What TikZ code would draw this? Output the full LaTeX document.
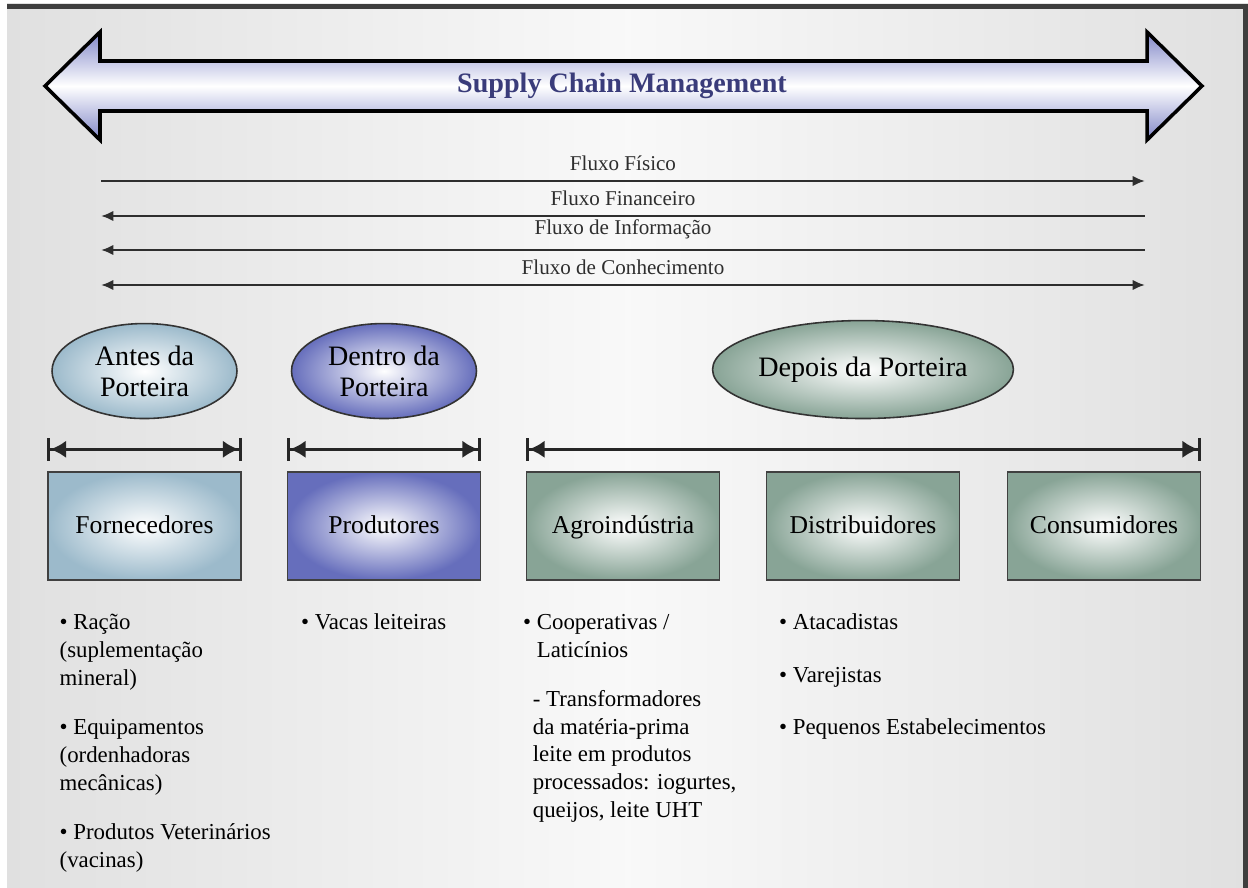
\documentclass[tikz,border=0pt]{standalone}
\usepackage{fontspec}
\setmainfont{Liberation Serif}
\usepackage{xcolor}
\usetikzlibrary{arrows.meta, positioning, shapes, calc}

\definecolor{antesblue}{RGB}{156,186,203}
\definecolor{dentroblue}{RGB}{102,110,188}
\definecolor{depoisgreen}{RGB}{136,164,150}
\definecolor{scmblue}{RGB}{128,134,200}
\definecolor{scmtext}{RGB}{58,60,122}
\definecolor{bggray}{RGB}{224,224,224}
\definecolor{framegray}{RGB}{62,62,62}

\begin{document}
\begin{tikzpicture}[
  x=0.02cm, y=-0.02cm,
  every node/.style={font=\fontsize{13}{15.9}\selectfont},
  box/.style={draw=black!75, line width=0.8pt, minimum width=3.86cm, minimum height=2.16cm, text height=0.8em, text depth=0pt, inner color=white, font=\fontsize{14.6}{17}\selectfont},
  zone/.style={ellipse, draw=black!80, line width=0.9pt, minimum width=3.7cm, minimum height=1.9cm, align=center, inner sep=1pt, inner color=white, font=\fontsize{16}{17.6}\selectfont},
  span/.style={{Bar[width=13pt]Latex[length=9pt, width=10pt]}-{Latex[length=9pt, width=10pt]Bar[width=13pt]}, line width=1.7pt, black!85},
  flow/.style={line width=1.6pt, black!82},
  flowtip/.tip={Latex[length=7pt, width=6pt]},
  flowlabel/.style={above=2pt, font=\fontsize{12}{14}\selectfont},
  items/.style={anchor=north west, align=left, inner sep=0pt}
]
% background and frame
\useasboundingbox (0,0) rectangle (1248,888);
\fill[white] (0,0) rectangle (1248,888);
\fill[left color=bggray, right color=bggray, middle color=gray!5] (7,4) rectangle (1248,888);
\fill[framegray] (7,4) rectangle (1248,9);
\fill[framegray] (1243,4) rectangle (1248,888);

% supply chain arrow
\draw[line width=2pt, top color=scmblue, bottom color=scmblue, middle color=white]
  (45,86) -- (100,32) -- (100,61) -- (1147,61) -- (1147,32) -- (1202,86)
  -- (1147,140) -- (1147,111) -- (100,111) -- (100,140) -- cycle;
\node[font=\fontsize{16}{18}\selectfont\bfseries, text=scmtext] (title) at (622,86) {Supply Chain Management};

% flows
\coordinate (fisL) at (101,181);  \coordinate (fisR) at (1145,181);
\coordinate (finL) at (101,216);  \coordinate (finR) at (1145,216);
\coordinate (infL) at (101,250);  \coordinate (infR) at (1145,250);
\coordinate (conL) at (101,285);  \coordinate (conR) at (1145,285);
\draw[flow, -flowtip] (fisL) -- node[flowlabel]{Fluxo Físico} (fisR);
\draw[flow, flowtip-] (finL) -- node[flowlabel]{Fluxo Financeiro} (finR);
\draw[flow, flowtip-] (infL) -- node[flowlabel]{Fluxo de Informação} (infR);
\draw[flow, flowtip-flowtip] (conL) -- node[flowlabel]{Fluxo de Conhecimento} (conR);

% agents
\node[box, outer color=antesblue] (forn) at (144.5,526) {Fornecedores};
\node[box, outer color=dentroblue] (prod) at (384,526) {Produtores};
\node[box, outer color=depoisgreen] (agro) at (623,526) {Agroindústria};
\node[box, outer color=depoisgreen] (dist) at (863,526) {Distribuidores};
\node[box, outer color=depoisgreen] (cons) at (1104,526) {Consumidores};

% stages
\node[zone, outer color=antesblue, above=1.04cm of forn] (antes) {Antes da\\Porteira};
\node[zone, outer color=dentroblue, above=1.04cm of prod] (dentro) {Dentro da\\Porteira};
\node[zone, outer color=depoisgreen, minimum width=5.8cm, minimum height=1.96cm, above=1.04cm of dist] (depois) {Depois da Porteira};

\draw[span] ($(forn.north west)+(0,-22)$) -- ($(forn.north east)+(0,-22)$);
\draw[span] ($(prod.north west)+(0,-22)$) -- ($(prod.north east)+(0,-22)$);
\draw[span] ($(agro.north west)+(0,-22)$) -- ($(cons.north east)+(0,-22)$);

% lists
\node[items] (fornlist) at ($(forn.south west)+(12,33)$) {\textbullet\ Ração\\(suplementação\\mineral)\\[12pt]\textbullet\ Equipamentos\\(ordenhadoras\\mecânicas)\\[12pt]\textbullet\ Produtos Veterinários\\(vacinas)};
\node[items] (prodlist) at ($(prod.south west)+(14,33)$) {\textbullet\ Vacas leiteiras};
\node[items] (agrolist) at ($(agro.south west)+(-3,33)$) {\textbullet\ Cooperativas /\\\phantom{\textbullet\ }Laticínios\\[12pt]\hspace*{5.5pt}- Transformadores\\\hspace*{5.5pt}da matéria-prima\\\hspace*{5.5pt}leite em produtos\\\hspace*{5.5pt}processados: iogurtes,\\\hspace*{5.5pt}queijos, leite UHT};
\node[items] (distlist) at ($(dist.south west)+(13,33)$) {\textbullet\ Atacadistas\\[13.8pt]\textbullet\ Varejistas\\[13.8pt]\textbullet\ Pequenos Estabelecimentos};

\end{tikzpicture}
\end{document}
